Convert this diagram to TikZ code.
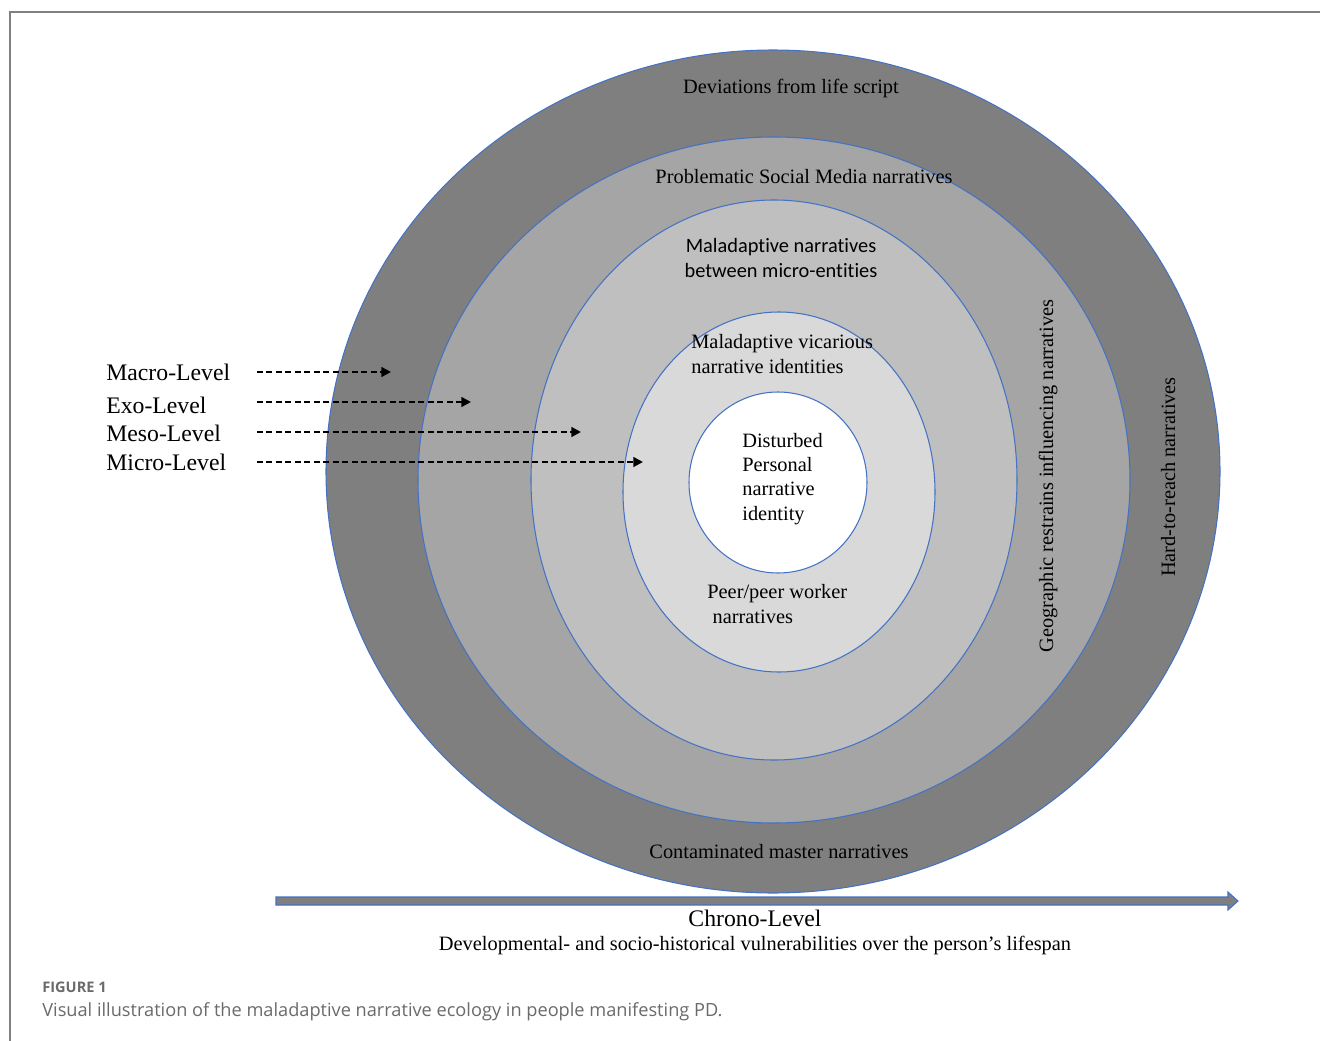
\documentclass[tikz,border=0pt]{standalone}
\usepackage{fontspec}
\setmainfont{Liberation Serif}
\newfontfamily\capfont{Open Sans}
\newfontfamily\calfont[Ligatures=NoCommon]{Carlito}
\usetikzlibrary{
  arrows.meta,
  positioning,  % Function "of"
}
\definecolor{ringblue}{HTML}{4472C4}
\definecolor{ringA}{HTML}{7F7F7F}
\definecolor{ringB}{HTML}{A5A5A5}
\definecolor{ringC}{HTML}{BFBFBF}
\definecolor{ringD}{HTML}{D9D9D9}
\definecolor{capgray}{HTML}{6A6A6A}
\def\mytextsize{\fontsize{11.6}{13.8}\selectfont}
\def\mylevelsize{\fontsize{13.5}{16}\selectfont}
\tikzset{
  my ring/.style={
    draw=ringblue,
    line width=0.6pt,
    fill=#1
  },
  my label/.style={
    inner sep=0pt,
    font=\mytextsize,
    align=center
  },
  my left label/.style={
    my label,
    align=left,
    anchor=base west
  },
  my level/.style={
    inner sep=0pt,
    anchor=base west,
    font=\mylevelsize
  },
  level arrow/.style={
    dash pattern=on 3.4pt off 2pt,
    line width=1.35pt,
    -{Triangle[length=5.5pt,width=5.5pt]}
  },
  time arrow/.style={
    draw=ringblue,
    line width=0.6pt,
    fill=ringA
  }
}

\begin{document}
\begin{tikzpicture}[x=0.02cm,y=-0.02cm]
\useasboundingbox (0,0) rectangle (1320,1041);
\draw[gray,line width=1.2pt] (10,1041) -- (10,12) -- (1320,12);
% rings, from the outside in
\draw[my ring=ringA] (773,471.5) ellipse [x radius=447, y radius=421.5];
\draw[my ring=ringB] (774,480) ellipse [x radius=356, y radius=343];
\draw[my ring=ringC] (774,480) ellipse [x radius=243, y radius=280];
\draw[my ring=ringD] (779,492) ellipse [x radius=156, y radius=180];
\draw[my ring=white] (778,482.5) ellipse [x radius=89, y radius=90.5];
% ring texts (base = last line)
\node[my label,anchor=base] (life)   at (791,93)  {Deviations from life script};
\node[my label,anchor=base] (media)  at (804,183) {Problematic Social Media narratives};
\node[my label,anchor=base,font=\calfont\mytextsize] (entity) at (781,277)
  {Maladaptive narratives\\ between micro-entities};
\node[my left label] (vicar)  at (691,373) {Maladaptive vicarious\\narrative identities};
\node[my left label] (self)   at (742,520) {Disturbed\\Personal\\narrative\\identity};
\node[my left label] (peer)   at (707,623) {Peer/peer worker\\\hspace{3pt}narratives};
\node[my label,anchor=base] (master) at (779,858) {Contaminated master narratives};
\node[my label,anchor=base,rotate=90] (geo)  at (1053,476) {Geographic restrains influencing narratives};
\node[my label,anchor=base,rotate=90] (hard) at (1175,477) {Hard-to-reach narratives};
% levels
\node[my level] (macro) at (106,380) {Macro-Level};
\node[my level] (exo)   at (106,413) {Exo-Level};
\node[my level] (meso)  at (106,441) {Meso-Level};
\node[my level] (micro) at (106,470) {Micro-Level};
\coordinate (macro s) at (257,372);
\coordinate (exo s)   at (257,402);
\coordinate (meso s)  at (257,432);
\coordinate (micro s) at (257,462);
\coordinate (macro e) at (391,372);
\coordinate (exo e)   at (471,402);
\coordinate (meso e)  at (581,432);
\coordinate (micro e) at (643,462);
\draw[level arrow] (macro s) -- (macro e);
\draw[level arrow] (exo s)   -- (exo e);
\draw[level arrow] (meso s)  -- (meso e);
\draw[level arrow] (micro s) -- (micro e);
% chrono level
\draw[time arrow] (276,897) -- (1228,897) -- (1228,892) -- (1238,901)
  -- (1228,910) -- (1228,905) -- (276,905) -- cycle;
\node[my level,anchor=base] (chrono) at (755,926) {Chrono-Level};
\node[my label,anchor=base] (span)   at (755,950)
  {Developmental- and socio-historical vulnerabilities over the person’s lifespan};
% caption
\node[inner sep=0pt,anchor=base west,text=capgray,font=\capfont\bfseries\fontsize{8.3}{10}\selectfont] (fig) at (42,992) {FIGURE 1};
\node[inner sep=0pt,anchor=base west,text=capgray,font=\capfont\fontsize{10.35}{12}\selectfont] (cap) at (42,1016)
  {Visual illustration of the maladaptive narrative ecology in people manifesting PD.};
\end{tikzpicture}
\end{document}
